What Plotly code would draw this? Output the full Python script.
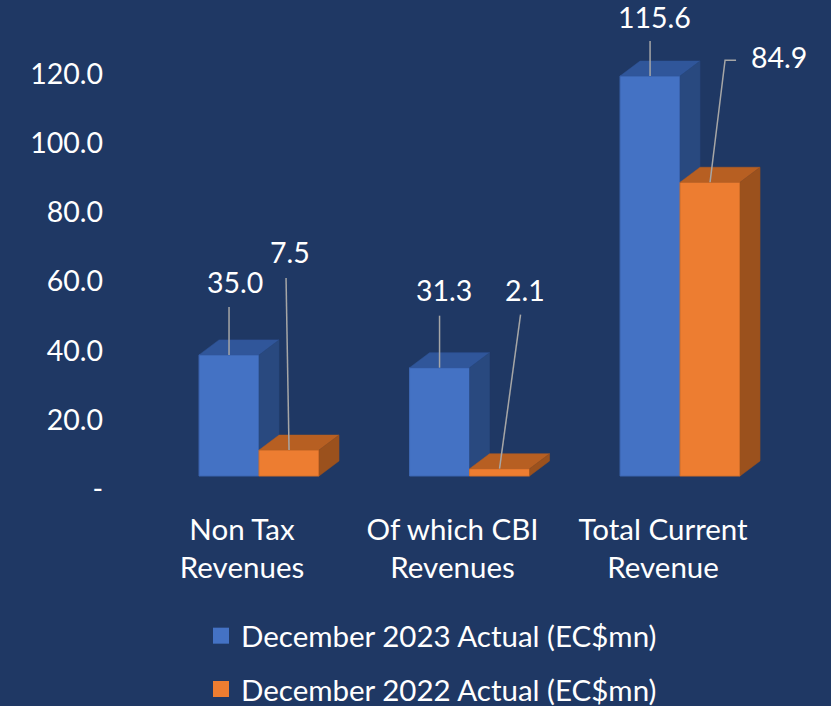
import plotly.graph_objects as go

# ---------------- data ----------------
categories = ["Non Tax<br>Revenues", "Of which CBI<br>Revenues", "Total Current<br>Revenue"]
series_names = ["December 2023 Actual (EC$mn)", "December 2022 Actual (EC$mn)"]
dec_2023_actual = [35.0, 31.3, 115.6]
dec_2022_actual = [7.5, 2.1, 84.9]
y_tick_values = [0, 20, 40, 60, 80, 100, 120]
y_tick_labels = ["-", "20.0", "40.0", "60.0", "80.0", "100.0", "120.0"]

# ---------------- style ----------------
BG = "#1F3864"
FRONT = ["#4472C4", "#ED7D31"]
FRONT_EDGE = ["#3D67B3", "#D8712B"]
TOP = ["#30569A", "#B75F22"]
SIDE = ["#29497F", "#9B511D"]
LEADER = "#A6A6A6"
FONT = "Lato"
FS_NUM = 28.5
FS_TXT = 29.5

W, H = 831, 706
ML, MR, MT, MB = 110, 0, 0, 206
X_RANGE = [-0.708, 2.717]
Y_RANGE = [-6.94, 137.57]
PX_X = (W - ML - MR) / (X_RANGE[1] - X_RANGE[0])
PX_Y = (H - MT - MB) / (Y_RANGE[1] - Y_RANGE[0])

BAR_W = 0.285
DEPTH_X = 20 / PX_X
DEPTH_Y = 15 / PX_Y

# data-label placement in pixels, relative to the centre of each bar's top front edge
label_offsets = [
    [(5.5, -73), (4, -78), (4.5, -59)],
    [(0.5, -198), (25, -179), (69, -125)],
]
leader_paths = [
    [[(0, -48)], [(0, -52)], [(0, -35)]],
    [[(-3, -172)], [(21, -154)], [(15, -122), (26, -122)]],
]

series_values = [dec_2023_actual, dec_2022_actual]
bar_offsets = [-BAR_W, 0.0]
idx = list(range(len(categories)))

fig = go.Figure()

# front faces
for s, vals in enumerate(series_values):
    fig.add_trace(go.Bar(
        x=idx, y=vals, width=BAR_W, offset=bar_offsets[s],
        marker=dict(color=FRONT[s], line=dict(color=FRONT_EDGE[s], width=1)),
        showlegend=False, hoverinfo="skip", name=series_names[s],
    ))


def faces(s):
    tx, ty, sx, sy = [], [], [], []
    for i, v in enumerate(series_values[s]):
        xl = i + bar_offsets[s]
        xr = xl + BAR_W
        tx += [xl, xl + DEPTH_X, xr + DEPTH_X, xr, xl, None]
        ty += [v, v + DEPTH_Y, v + DEPTH_Y, v, v, None]
        # side face: hidden where the next series' front face sits in front of it
        if s + 1 < len(series_values):
            base = min(series_values[s + 1][i], v)
        else:
            base = 0
        sx += [xr, xr + DEPTH_X, xr + DEPTH_X, xr, xr, None]
        sy += [base, base + DEPTH_Y, v + DEPTH_Y, v, base, None]
    return tx, ty, sx, sy


for s in range(len(series_values)):
    tx, ty, sx, sy = faces(s)
    fig.add_trace(go.Scatter(x=tx, y=ty, mode="lines", fill="toself",
                             fillcolor=TOP[s], line=dict(color=TOP[s], width=0.5),
                             showlegend=False, hoverinfo="skip"))
    fig.add_trace(go.Scatter(x=sx, y=sy, mode="lines", fill="toself",
                             fillcolor=SIDE[s], line=dict(color=SIDE[s], width=0.5),
                             showlegend=False, hoverinfo="skip"))

# leader lines and data labels
for s, vals in enumerate(series_values):
    lx, ly = [], []
    for i, v in enumerate(vals):
        xc = i + bar_offsets[s] + BAR_W / 2
        lx.append(xc)
        ly.append(v)
        for (px, py) in leader_paths[s][i]:
            lx.append(xc + px / PX_X)
            ly.append(v - py / PX_Y)
        lx.append(None)
        ly.append(None)
        dx, dy = label_offsets[s][i]
        fig.add_annotation(x=xc, y=v, xref="x", yref="y", text=f"{v:.1f}",
                           showarrow=False, xshift=dx, yshift=-dy,
                           xanchor="center", yanchor="middle",
                           font=dict(family=FONT, size=FS_NUM, color="white"))
    fig.add_trace(go.Scatter(x=lx, y=ly, mode="lines",
                             line=dict(color=LEADER, width=1.5),
                             showlegend=False, hoverinfo="skip"))

# legend entries
for s in range(len(series_values)):
    fig.add_trace(go.Scatter(x=[None], y=[None], mode="markers", name=series_names[s],
                             marker=dict(symbol="square", size=16, color=FRONT[s]),
                             legendgroup=f"g{s}"))

fig.update_layout(
    width=W, height=H,
    margin=dict(l=ML, r=MR, t=MT, b=MB, autoexpand=False),
    paper_bgcolor=BG, plot_bgcolor=BG,
    barmode="overlay",
    font=dict(family=FONT, size=FS_TXT, color="white"),
    legend=dict(x=(201 - ML) / (W - ML - MR), y=(H - MB - 610) / (H - MT - MB),
                xanchor="left", yanchor="top", orientation="v",
                traceorder="grouped", tracegroupgap=12,
                font=dict(family=FONT, size=FS_TXT, color="white"),
                bgcolor="rgba(0,0,0,0)"),
    xaxis=dict(range=X_RANGE, tickvals=idx, ticktext=categories,
               showgrid=False, zeroline=False, showline=False, ticks="",
               ticklabelshift=-17, ticklabelstandoff=9, fixedrange=True,
               tickfont=dict(family=FONT, size=FS_TXT, color="white")),
    yaxis=dict(range=Y_RANGE, tickvals=y_tick_values, ticktext=y_tick_labels,
               showgrid=False, zeroline=False, showline=False, ticks="",
               ticklabelshift=13, ticklabelstandoff=6, fixedrange=True,
               tickfont=dict(family=FONT, size=FS_NUM, color="white")),
)

fig.write_html("out.html", config={"displayModeBar": False},
               post_script="document.body.style.margin='0px';")
